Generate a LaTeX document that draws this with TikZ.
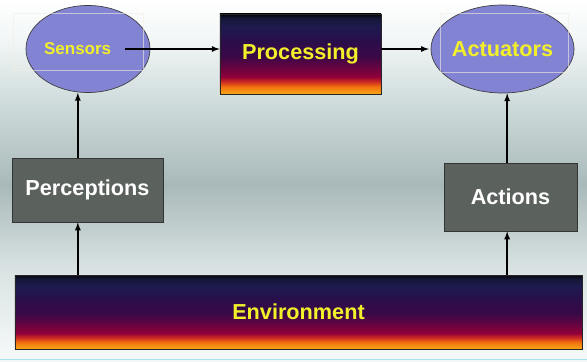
\documentclass[tikz,border=0pt]{standalone}
\usepackage{fontspec}
\setmainfont{Liberation Sans}
\usetikzlibrary{shapes.geometric}

% colours
\definecolor{bgA}{HTML}{FFFFFF}
\definecolor{bgB}{HTML}{F2F6F6}
\definecolor{bgC}{HTML}{D0DCDC}
\definecolor{bgD}{HTML}{A9B9B9}
\definecolor{bgE}{HTML}{DAE3E3}
\definecolor{bgF}{HTML}{F3F7F7}
\definecolor{flA}{HTML}{05050A}
\definecolor{flB}{HTML}{151838}
\definecolor{flC}{HTML}{1E1A50}
\definecolor{flD}{HTML}{2A0E4A}
\definecolor{flE}{HTML}{3C0846}
\definecolor{flF}{HTML}{6A0440}
\definecolor{flG}{HTML}{900038}
\definecolor{flH}{HTML}{D03020}
\definecolor{flI}{HTML}{F07010}
\definecolor{flJ}{HTML}{F8A818}
\definecolor{lilac}{HTML}{8383D3}
\definecolor{boxgrey}{HTML}{5B615D}
\definecolor{txtyellow}{HTML}{F2F02A}
\definecolor{edgecyan}{HTML}{A8E4EA}
\definecolor{frameline}{HTML}{F4EEE2}

% backdrop, light at top and bottom, darker in the middle
\pgfdeclareverticalshading{backdrop}{100bp}{color(0bp)=(bgF); color(25bp)=(bgF);
  color(26.5bp)=(bgF); color(37.6bp)=(bgE); color(49.4bp)=(bgD);
  color(61.1bp)=(bgC); color(69.5bp)=(bgB); color(75bp)=(bgA); color(100bp)=(bgA)}
% black to orange fill of the two long boxes
\pgfdeclareverticalshading{flame}{100bp}{color(0bp)=(flJ); color(25bp)=(flJ);
  color(29.7bp)=(flI); color(32.4bp)=(flH); color(35.8bp)=(flG);
  color(41.2bp)=(flF); color(48bp)=(flE); color(58.1bp)=(flD);
  color(66.9bp)=(flC); color(72.3bp)=(flB); color(75bp)=(flA); color(100bp)=(flA)}

\newcommand{\bigfont}{\fontsize{18.5}{20}\selectfont\bfseries}

\begin{document}
\begin{tikzpicture}[>=latex, x=0.03cm, y=-0.03cm,
  flamebox/.style={draw=black!85, line width=0.6pt, shading=flame,
    text=txtyellow, font=\bigfont, inner sep=0pt},
  greybox/.style={draw=black!80, line width=0.8pt, fill=boxgrey,
    text=white, font=\bigfont, inner sep=0pt},
  organ/.style={ellipse, draw=black!75, line width=0.6pt, fill=lilac,
    text=txtyellow, inner sep=0pt},
  link/.style={->, line width=1.3pt}]
  \useasboundingbox (0,0) rectangle (587,361);
  \shade[shading=backdrop] (0,0) rectangle (587,361);
  \draw[edgecyan, line width=1.2pt] (0,359.5) -- (587,359.5);

  % top row
  \node[organ, minimum width=3.6cm, minimum height=2.61cm,
    font=\fontsize{14.5}{16}\selectfont\bfseries] (sensors) at (88,49)
    {Sensors\kern0.62cm};
  \node[flamebox, minimum width=4.83cm, minimum height=2.4cm] (processing)
    at (300.5,54) {Processing};
  \node[organ, minimum width=3.63cm, minimum height=2.64cm, font=\bigfont]
    (actuators) at (502.5,49) {Actuators};
  \draw[frameline, opacity=.6, line width=0.5pt] (13,13) rectangle (143,70);
  \draw[frameline, opacity=.6, line width=0.5pt] (440,13) rectangle (568,72);

  % middle row
  \node[greybox, minimum width=4.53cm, minimum height=1.92cm] (perceptions)
    at (87.5,190) {Perceptions};
  \node[greybox, minimum width=3.99cm, minimum height=2.04cm] (actions)
    at (510.5,197) {Actions};

  % bottom
  \node[flamebox, minimum width=17.01cm, minimum height=2.22cm] (environment)
    at (298.5,312) {Environment};

  % arrows
  \draw[link] ([xshift=1.11cm]sensors.center) -- (processing.west |- sensors.center);
  \draw[link] (processing.east |- actuators.center) -- ([xshift=-1.5pt]actuators.west);
  \draw[link] ([xshift=-0.29cm]perceptions.north)
    -- ([xshift=-0.29cm]perceptions.north |- sensors.south);
  \draw[link] ([xshift=-0.29cm]perceptions.south |- environment.north)
    -- ([xshift=-0.29cm]perceptions.south);
  \draw[link] ([xshift=-0.1cm]actions.north)
    -- ([xshift=-0.1cm]actions.north |- actuators.south);
  \draw[link] ([xshift=-0.1cm]actions.south |- environment.north)
    -- ([xshift=-0.1cm]actions.south);
\end{tikzpicture}
\end{document}
